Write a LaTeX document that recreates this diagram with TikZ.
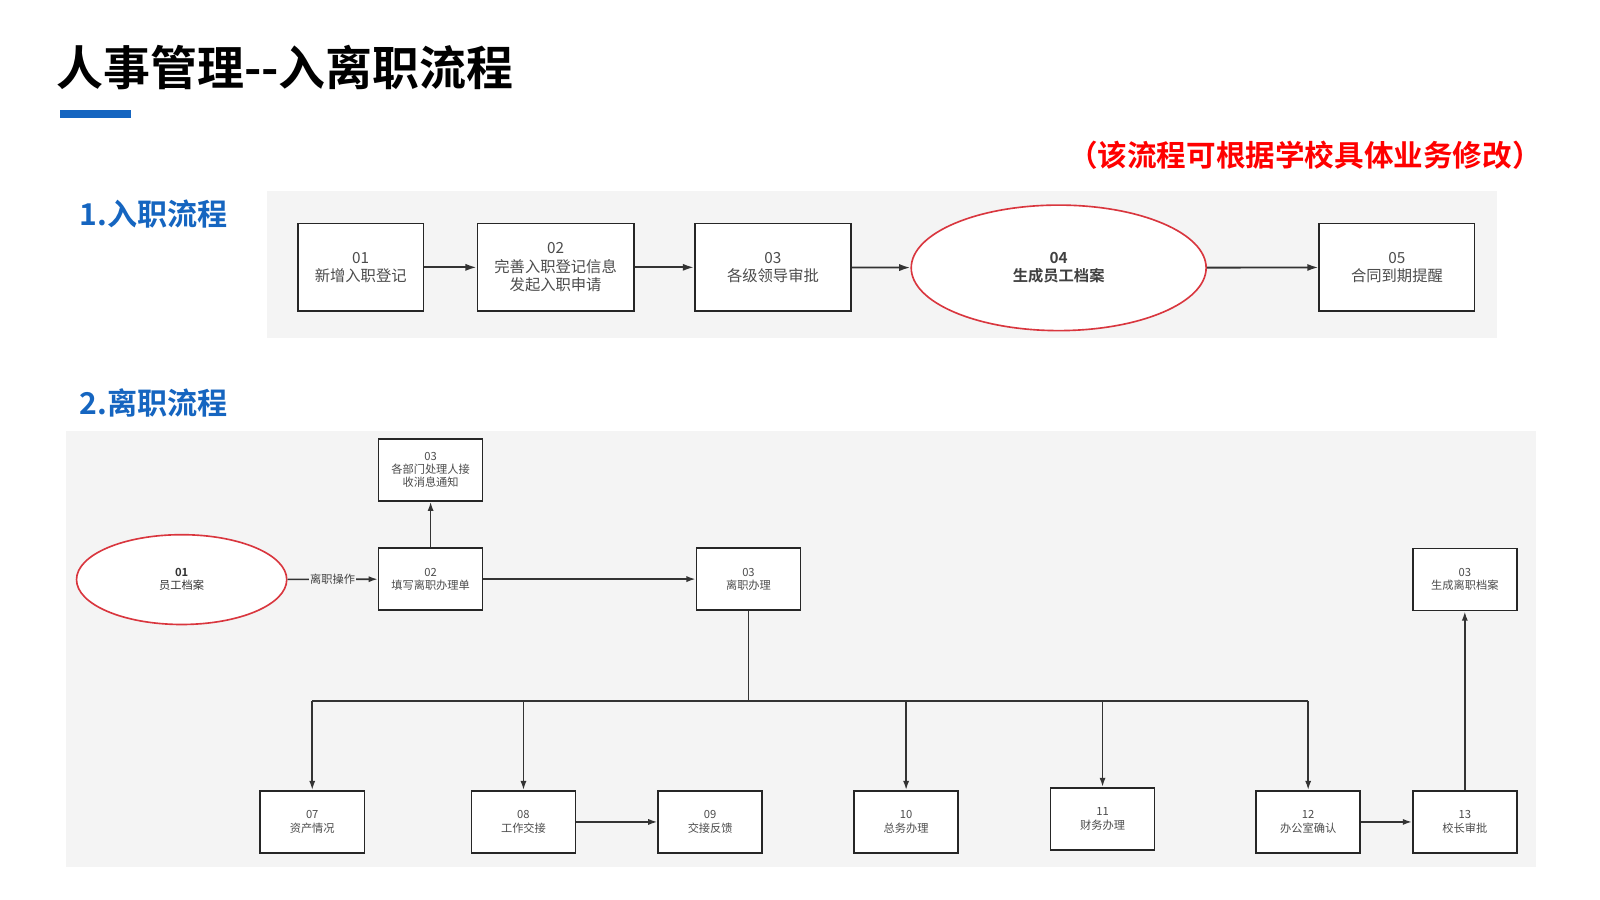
\documentclass[tikz,border=0pt]{standalone}
\usepackage{fontspec}
\setmainfont{Noto Sans CJK SC}
\newfontfamily\cjkb{Noto Sans CJK SC Bold}
\usetikzlibrary{shapes.geometric,arrows.meta}
\definecolor{panel}{HTML}{F4F4F4}
\definecolor{tblue}{HTML}{1565C0}
\definecolor{ered}{HTML}{D9363E}
\begin{document}
\begin{tikzpicture}[x=1pt,y=-1pt,
  big/.style={draw=black!85,line width=1.8pt,fill=white,minimum width=#1,minimum height=86pt,align=center,font=\fontsize{15}{18}\selectfont,text=black!70,inner sep=0pt},
  sm/.style={draw=black!85,line width=1.5pt,fill=white,minimum width=102pt,minimum height=61pt,align=center,font=\fontsize{11}{13}\selectfont,text=black!70,inner sep=0pt},
  ell/.style={ellipse,draw=ered,line width=1.6pt,fill=white,align=center,inner sep=0pt},
  arr/.style={-{Latex[length=11pt,width=7pt]},line width=1.8pt,draw=black!80},
  arrs/.style={-{Latex[length=9pt,width=6pt]},line width=1.6pt,draw=black!80},
  ln/.style={line width=1.8pt,draw=black!80}]
\useasboundingbox (0,0) rectangle (1568,882);
\fill[white] (0,0) rectangle (1568,882);
\node[anchor=west,font=\cjkb\fontsize{46}{50}\selectfont,inner sep=0pt] (title) at (55,66) {人事管理--入离职流程};
\fill[tblue] (59,108) rectangle (128,116);
\node[anchor=east,font=\cjkb\fontsize{29}{32}\selectfont,text=red,inner sep=0pt] (note) at (1511,152) {（该流程可根据学校具体业务修改）};
\node[anchor=west,font=\cjkb\fontsize{29.5}{32}\selectfont,text=tblue,inner sep=0pt] (s1) at (78,210) {1.入职流程};
\node[anchor=west,font=\cjkb\fontsize{29.5}{32}\selectfont,text=tblue,inner sep=0pt] (s2) at (78,395) {2.离职流程};
% top panel
\fill[panel] (262,187) rectangle (1467,331);
\node[big=123pt] (a1) at (353.5,262) {01\\新增入职登记};
\node[big=153pt] (a2) at (544.5,262) {02\\完善入职登记信息\\发起入职申请};
\node[big=153pt] (a3) at (757.5,262) {03\\各级领导审批};
\node[ell,minimum width=289pt,minimum height=123pt,font=\fontsize{15}{18}\selectfont,text=black!75] (a4) at (1037.5,262.5) {\cjkb 04\\\cjkb 生成员工档案};
\node[big=152pt] (a5) at (1369,262) {05\\合同到期提醒};
\draw[arr] (a1) -- (a2);
\draw[arr] (a2) -- (a3);
\draw[arr] (a3) -- (a4);
\draw[arr] (a4) -- (a5);
% bottom panel
\fill[panel] (65,422) rectangle (1505,850);
\node[ell,minimum width=206pt,minimum height=88pt,font=\fontsize{11}{13}\selectfont,text=black!80] (e1) at (178,568) {\cjkb 01\\员工档案};
\node[sm] (n2) at (422,567.5) {02\\填写离职办理单};
\node[sm] (n3t) at (422,460.5) {03\\各部门处理人接\\收消息通知};
\node[sm] (n3) at (733.5,567.5) {03\\离职办理};
\node[sm] (n3r) at (1435.5,568) {03\\生成离职档案};
\node[sm] (n7) at (306,805.5) {07\\资产情况};
\node[sm] (n8) at (513,805.5) {08\\工作交接};
\node[sm] (n9) at (696,805.5) {09\\交接反馈};
\node[sm] (n10) at (888,805.5) {10\\总务办理};
\node[sm] (n11) at (1080.5,802.5) {11\\财务办理};
\node[sm] (n12) at (1282,805.5) {12\\办公室确认};
\node[sm] (n13) at (1435.5,805.5) {13\\校长审批};
\coordinate (bus) at (733.5,687);
\draw[arrs] (e1) -- node[fill=panel,font=\fontsize{11}{13}\selectfont,text=black!75,inner sep=1pt]{离职操作} (n2);
\draw[arrs] (n2) -- (n3t);
\draw[arrs] (n2) -- (n3);
\draw[ln] (n3.south) -- (bus);
\draw[ln] (306,687) -- (1282,687);
\foreach \n in {n7,n8,n10,n11,n12} \draw[arrs] (\n.north |- bus) -- (\n.north);
\draw[arrs] (n8) -- (n9);
\draw[arrs] (n12) -- (n13);
\draw[arrs] (n13) -- (n3r);
\end{tikzpicture}
\end{document}
